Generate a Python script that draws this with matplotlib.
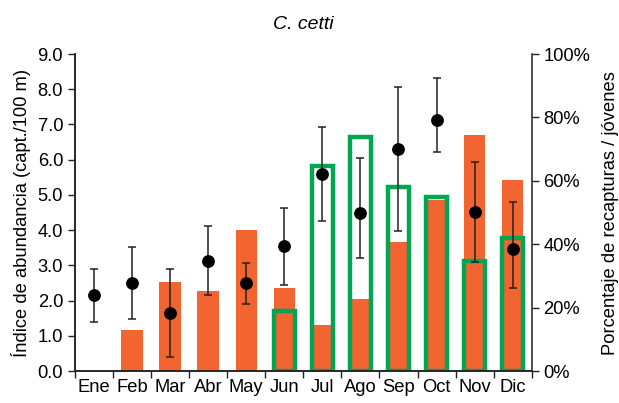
import numpy as np
import matplotlib
matplotlib.use("Agg")
import matplotlib.pyplot as plt

plt.rcParams['font.family'] = ['Liberation Sans', 'DejaVu Sans']

meses = ['Ene', 'Feb', 'Mar', 'Abr', 'May', 'Jun', 'Jul', 'Ago', 'Sep', 'Oct', 'Nov', 'Dic']
# indice de abundancia (capt./100 m) con limites del error
indice = [2.16, 2.49, 1.66, 3.13, 2.49, 3.54, 5.60, 4.50, 6.30, 7.13, 4.52, 3.46]
err_sup = [2.90, 3.53, 2.90, 4.11, 3.07, 4.64, 6.92, 6.04, 8.06, 8.31, 5.94, 4.80]
err_inf = [1.40, 1.47, 0.41, 2.16, 1.92, 2.44, 4.26, 3.22, 3.97, 6.21, 3.10, 2.37]
# porcentajes
recapturas = [0, 12.9, 28.2, 25.2, 44.4, 26.1, 14.7, 22.6, 40.7, 53.9, 74.4, 60.3]
jovenes = [0, 0, 0, 0, 0, 19.0, 64.6, 73.7, 58.0, 54.8, 34.8, 42.0]

naranja = '#F26430'
verde = '#00A651'
gris = '#222222'
fs = 13.2

fig = plt.figure(figsize=(6.19, 4.03), dpi=100)
ax = fig.add_axes([0.121, 0.079, 0.738, 0.787])
ax2 = ax.twinx()
ax.set_zorder(ax2.get_zorder() + 1)
ax.patch.set_visible(False)

x = np.arange(len(meses))
ax2.bar(x, recapturas, width=0.56, color=naranja, zorder=1)
jov = np.array(jovenes)
m = jov > 0
ax2.bar(x[m], jov[m], width=0.56, facecolor='none', edgecolor=verde, linewidth=3.2, zorder=2)

ind = np.array(indice)
yerr = [ind - np.array(err_inf), np.array(err_sup) - ind]
ax.errorbar(x, ind, yerr=yerr, fmt='o', color='black', ecolor=gris, elinewidth=1.1,
            capsize=2.6, capthick=1.1, markersize=8.2, zorder=5)

ax.set_xlim(-0.5, 11.5)
ax.set_ylim(0, 9)
ax2.set_ylim(0, 100)
ax.set_yticks(np.arange(0, 9.1, 1))
ax.set_yticklabels([f'{v:.1f}' for v in np.arange(0, 9.1, 1)])
ax2.set_yticks(np.arange(0, 101, 20))
ax2.set_yticklabels([f'{v}%' for v in range(0, 101, 20)])
ax.set_xticks(x)
ax.set_xticklabels(meses)
ax.set_xticks(np.arange(-0.5, 12, 1), minor=True)
ax.tick_params(axis='x', which='major', length=0, labelsize=fs, pad=6, colors='black')
ax.tick_params(axis='x', which='minor', length=5, width=1, color=gris)
ax.tick_params(axis='y', length=5, width=1, labelsize=fs, color=gris)
ax2.tick_params(axis='y', length=5, width=1, labelsize=fs, color=gris)

for a in (ax, ax2):
    a.spines['top'].set_visible(False)
    for s in a.spines.values():
        s.set_color(gris)
        s.set_linewidth(1.1)
ax.spines['right'].set_visible(False)

ax.set_ylabel('Índice de abundancia (capt./100 m)', fontsize=fs, labelpad=5)
ax2.set_ylabel('Porcentaje de recapturas / jóvenes', fontsize=fs, labelpad=8)
ax.set_title('C. cetti', fontsize=14, style='italic', pad=18)

fig.savefig('out.png', dpi=100)
